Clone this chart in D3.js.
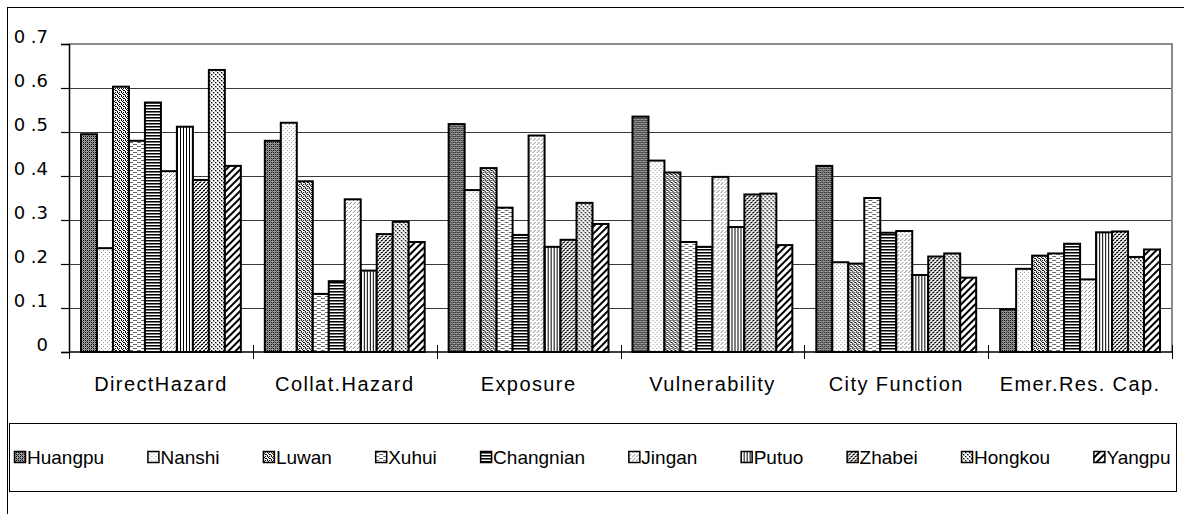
<!DOCTYPE html>
<html>
<head>
<meta charset="utf-8">
<script src="https://cdn.jsdelivr.net/npm/d3@7"></script>
<style>
  body { margin: 0; background: #fff; }
  svg { display: block; }
</style>
</head>
<body>
<div id="chart"></div>
<script>
const width = 1184;
const height = 514;

const categories = ["DirectHazard", "Collat.Hazard", "Exposure", "Vulnerability", "City Function", "Emer.Res. Cap."];
const districts = ["Huangpu", "Nanshi", "Luwan", "Xuhui", "Changnian", "Jingan", "Putuo", "Zhabei", "Hongkou", "Yangpu"];

const huangpu   = [0.495, 0.480, 0.518, 0.535, 0.423, 0.097];
const nanshi    = [0.236, 0.521, 0.368, 0.435, 0.204, 0.189];
const luwan     = [0.603, 0.388, 0.418, 0.408, 0.201, 0.219];
const xuhui     = [0.480, 0.132, 0.328, 0.250, 0.350, 0.224];
const changnian = [0.567, 0.161, 0.266, 0.239, 0.271, 0.246];
const jingan    = [0.411, 0.347, 0.492, 0.398, 0.275, 0.165];
const putuo     = [0.512, 0.185, 0.239, 0.284, 0.175, 0.272];
const zhabei    = [0.391, 0.268, 0.255, 0.358, 0.217, 0.274];
const hongkou   = [0.641, 0.296, 0.339, 0.360, 0.224, 0.216];
const yangpu    = [0.423, 0.250, 0.291, 0.243, 0.169, 0.233];

const yTicks = [0, 0.1, 0.2, 0.3, 0.4, 0.5, 0.6, 0.7];
const yTickLabels = ["0", "0 .1", "0 .2", "0 .3", "0 .4", "0 .5", "0 .6", "0 .7"];

const seriesValues = [huangpu, nanshi, luwan, xuhui, changnian, jingan, putuo, zhabei, hongkou, yangpu];

const plot = { left: 69, right: 1172, top: 44, bottom: 352 };

const svg = d3.select("#chart")
    .append("svg")
    .attr("width", width)
    .attr("height", height);

// hatch patterns, one per district
const defs = svg.append("defs");

function pattern(id, w, h, bg, draw, transform) {
    const p = defs.append("pattern")
        .attr("id", id)
        .attr("patternUnits", "userSpaceOnUse")
        .attr("width", w)
        .attr("height", h);
    if (transform) p.attr("patternTransform", transform);
    p.append("rect").attr("width", w).attr("height", h).attr("fill", bg);
    draw(p);
}
function px(p, pts, fill) {
    pts.forEach(([x, y, w, h]) => p.append("rect")
        .attr("x", x).attr("y", y)
        .attr("width", w || 1).attr("height", h || 1)
        .attr("fill", fill));
}

pattern("p0", 4, 4, "#a0a0a0", p => { px(p, [[0, 0], [2, 2], [2, 0], [0, 2]], "#000"); px(p, [[1, 1], [3, 3]], "#555"); });
pattern("p1", 4, 4, "#fff", p => px(p, [[0, 0], [2, 2]], "#999"));
pattern("p2", 4, 4, "#fff", p => px(p, [[0, 0], [2, 0], [1, 1], [3, 2], [0, 3], [2, 2]], "#000"));
pattern("p3", 8, 4, "#fff", p => px(p, [[0, 0, 4, 1], [4, 2, 4, 1]], "#666"));
pattern("p4", 3, 3, "#fff", p => { px(p, [[0, 0, 3, 1]], "#000"); px(p, [[0, 1, 3, 1]], "#777"); });
pattern("p5", 4, 4, "#fff", p => px(p, [[0, 0], [2, 2], [1, 3]], "#888"));
pattern("p6", 3, 3, "#fff", p => px(p, [[0, 0, 1, 3]], "#000"));
pattern("p7", 4, 4, "#fff", p => { px(p, [[0, 0, 2, 1], [2, 2, 2, 1]], "#000"); px(p, [[0, 1], [2, 3], [3, 1], [1, 3]], "#888"); });
pattern("p8", 4, 4, "#fff", p => { px(p, [[0, 0, 2, 2], [2, 2, 2, 2]], "#aaa"); px(p, [[0, 0], [2, 2]], "#000"); });
pattern("p9", 5, 5, "#fff", p => px(p, [[0, 0, 2, 5]], "#000"), "rotate(45)");

// outer chart frame
svg.append("rect")
    .attr("x", 7.5).attr("y", 7.5)
    .attr("width", width + 20).attr("height", height + 20)
    .attr("fill", "none")
    .attr("stroke", "#000")
    .attr("stroke-width", 1);

const x0 = d3.scaleBand()
    .domain(categories)
    .range([plot.left, plot.right])
    .padding(0);

const x1 = d3.scaleBand()
    .domain(districts)
    .range([0, x0.bandwidth()])
    .paddingInner(0)
    .paddingOuter(0.75);

const y = d3.scaleLinear()
    .domain([0, 0.7])
    .range([plot.bottom, plot.top]);

// gridlines
svg.append("g")
    .selectAll("line")
    .data(yTicks.filter(d => d > 0 && d < 0.7))
    .enter()
    .append("line")
    .attr("x1", plot.left).attr("x2", plot.right)
    .attr("y1", d => Math.round(y(d)) + 0.5)
    .attr("y2", d => Math.round(y(d)) + 0.5)
    .attr("stroke", "#3a3a3a")
    .attr("stroke-width", 1);

// plot area border (top & right, grey)
svg.append("path")
    .attr("d", `M${plot.left},${plot.top}H${plot.right}V${plot.bottom}`)
    .attr("fill", "none")
    .attr("stroke", "#8a8a8a")
    .attr("stroke-width", 2);

// bars
const rows = categories.map((c, ci) => ({
    category: c,
    values: districts.map((d, di) => ({ district: d, index: di, value: seriesValues[di][ci] }))
}));

svg.append("g")
    .selectAll("g")
    .data(rows)
    .enter()
    .append("g")
    .attr("transform", d => `translate(${x0(d.category)},0)`)
    .selectAll("rect")
    .data(d => d.values)
    .enter()
    .append("rect")
    .attr("x", d => x1(d.district))
    .attr("y", d => y(d.value))
    .attr("width", x1.bandwidth())
    .attr("height", d => y(0) - y(d.value))
    .attr("fill", d => `url(#p${d.index})`)
    .attr("stroke", "#000")
    .attr("stroke-width", 2);

// y axis
const yAxis = svg.append("g")
    .attr("transform", `translate(${plot.left},0)`)
    .call(d3.axisLeft(y).tickValues(yTicks).tickSize(8).tickFormat((d, i) => yTickLabels[i]));
yAxis.select(".domain").attr("stroke", "#000").attr("stroke-width", 1.5);
yAxis.selectAll(".tick line").attr("stroke", "#000").attr("stroke-width", 1.2);
yAxis.selectAll(".tick text")
    .attr("x", -21)
    .attr("dy", "-0.08em")
    .style("font-family", "'DejaVu Sans', sans-serif")
    .style("font-size", "18px")
    .attr("fill", "#000");

// x axis line with cross ticks at group boundaries
svg.append("line")
    .attr("x1", plot.left).attr("x2", plot.right)
    .attr("y1", plot.bottom).attr("y2", plot.bottom)
    .attr("stroke", "#000").attr("stroke-width", 1.5);

const boundaries = categories.map(c => x0(c)).concat([plot.right]);
svg.append("g")
    .selectAll("line")
    .data(boundaries)
    .enter()
    .append("line")
    .attr("x1", d => Math.round(d) + 0.5).attr("x2", d => Math.round(d) + 0.5)
    .attr("y1", plot.bottom - 7).attr("y2", plot.bottom + 7)
    .attr("stroke", "#000").attr("stroke-width", 1);

// category labels
svg.append("g")
    .selectAll("text")
    .data(categories)
    .enter()
    .append("text")
    .attr("x", d => x0(d) + x0.bandwidth() / 2)
    .attr("y", 391)
    .attr("text-anchor", "middle")
    .style("font-family", "'Liberation Sans', Arial, sans-serif")
    .style("font-size", "20px")
    .style("letter-spacing", "1.4px")
    .text(d => d);

// legend
const legend = { left: 9, right: 1176, top: 423, bottom: 491 };
svg.append("rect")
    .attr("x", legend.left + 0.5).attr("y", legend.top + 0.5)
    .attr("width", legend.right - legend.left).attr("height", legend.bottom - legend.top)
    .attr("fill", "#fff")
    .attr("stroke", "#000")
    .attr("stroke-width", 1);

const legendItems = svg.append("g")
    .selectAll("g")
    .data(districts)
    .enter()
    .append("g");

legendItems.append("rect")
    .attr("x", 0.5).attr("y", -12.5)
    .attr("width", 11).attr("height", 11)
    .attr("fill", (d, i) => `url(#p${i})`)
    .attr("stroke", "#000")
    .attr("stroke-width", 1.5);

legendItems.append("text")
    .attr("x", 13)
    .attr("y", 0)
    .style("font-family", "'Liberation Sans', Arial, sans-serif")
    .style("font-size", "19px")
    .text(d => d);

const itemWidths = legendItems.nodes().map(n => n.getBBox().width);
const startX = 14, endX = 1170;
const gap = (endX - startX - d3.sum(itemWidths)) / (districts.length - 1);
let cursor = startX;
legendItems.attr("transform", (d, i) => {
    const t = `translate(${cursor},464)`;
    cursor += itemWidths[i] + gap;
    return t;
});
</script>
</body>
</html>
